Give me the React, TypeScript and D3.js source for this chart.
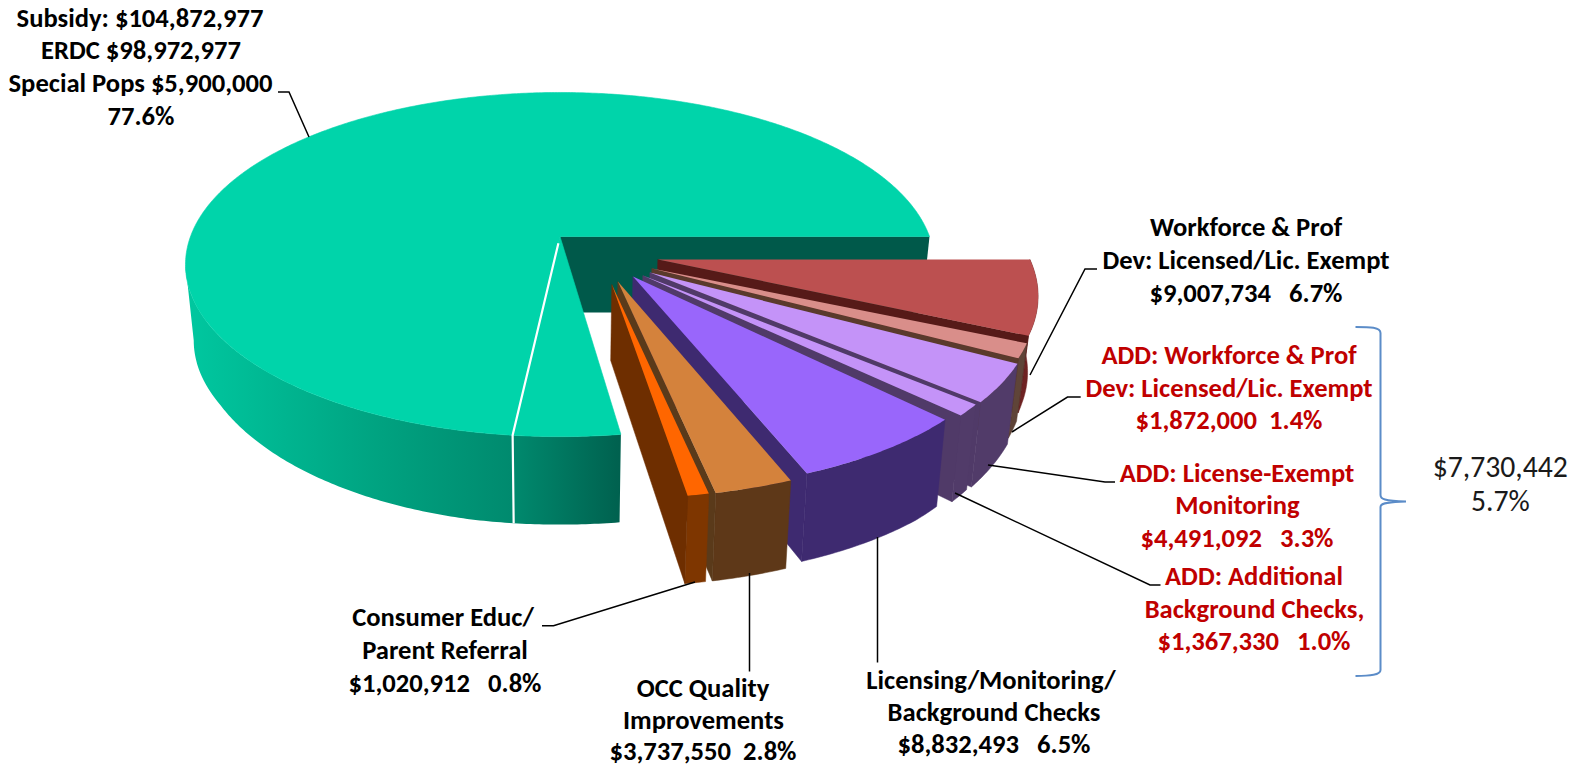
import React from "react";
import * as d3 from "d3";

// ---- data ----
const sliceNames = [
  "Workforce & Prof Dev",
  "ADD: Workforce & Prof Dev",
  "ADD: License-Exempt Monitoring",
  "ADD: Additional Background Checks",
  "Licensing/Monitoring/Background Checks",
  "OCC Quality Improvements",
  "Consumer Educ/Parent Referral",
  "Special Pops",
  "ERDC",
];
const sliceValues = [9007734, 1872000, 4491092, 1367330, 8832493, 3737550, 1020912, 5900000, 98972977];

// styling per slice
const topColors = ["#bc5050", "#d98e8a", "#c493f8", "#c493f8", "#9966fb", "#d4823c", "#ff6600", "#00d4aa", "#00d4aa"];
const sideColors = ["#6e2222", "#5f4438", "#513b69", "#513b69", "#3e2a70", "#5e3818", "#7e3600", "url(#greenSide)", "url(#greenSide)"];
const endColors = ["#561a18", "#5a3a2c", "#503a68", "#503a68", "#3e2a70", "#5a3a1a", "#6e2e00", "none", "none"];
const explodeU = [0.259, 0.241, 0.235, 0.216, 0.19, 0.15, 0.134, 0, 0];
const explodeV = [0.134, 0.185, 0.208, 0.225, 0.23, 0.258, 0.274, 0, 0];
const radii = [0.985, 0.985, 0.985, 0.985, 0.985, 0.985, 0.972, 1, 1];
// small angular corrections (degrees) for the perspective drawing of the source
const startNudge = [0, -0.5, -0.6, -0.6, 0.6, 0.8, 0.8, 1.3, -0.3];
const endNudge = [0.4, -0.8, -0.1, -0.5, 0.9, 1, 0.85, -0.3, 0];

const blackLabels = [
  { x: 140, y: 27, t: "Subsidy: $104,872,977" },
  { x: 141, y: 59, t: "ERDC $98,972,977" },
  { x: 140.5, y: 92, t: "Special Pops $5,900,000" },
  { x: 141, y: 125, t: "77.6%" },
  { x: 1246, y: 236, t: "Workforce & Prof" },
  { x: 1246, y: 269, t: "Dev: Licensed/Lic. Exempt" },
  { x: 1246, y: 302, t: "$9,007,734   6.7%" },
  { x: 443, y: 626, t: "Consumer Educ/" },
  { x: 445, y: 659, t: "Parent Referral" },
  { x: 445, y: 691.5, t: "$1,020,912   0.8%" },
  { x: 703, y: 697, t: "OCC Quality" },
  { x: 703.5, y: 729, t: "Improvements" },
  { x: 703, y: 760, t: "$3,737,550  2.8%" },
  { x: 991, y: 689, t: "Licensing/Monitoring/" },
  { x: 994, y: 721, t: "Background Checks" },
  { x: 994, y: 753, t: "$8,832,493   6.5%" },
];
const redLabels = [
  { x: 1229, y: 364, t: "ADD: Workforce & Prof" },
  { x: 1229, y: 397, t: "Dev: Licensed/Lic. Exempt" },
  { x: 1229, y: 429, t: "$1,872,000  1.4%" },
  { x: 1237, y: 482, t: "ADD: License-Exempt" },
  { x: 1237.5, y: 514, t: "Monitoring" },
  { x: 1237, y: 547, t: "$4,491,092   3.3%" },
  { x: 1254, y: 585, t: "ADD: Additional" },
  { x: 1254.5, y: 618, t: "Background Checks," },
  { x: 1254, y: 650, t: "$1,367,330   1.0%" },
];
const totalLabels = [
  { x: 1500.3, y: 476.5, t: "$7,730,442" },
  { x: 1500.3, y: 511, t: "5.7%" },
];
const leaderLines: [number, number][][] = [
  [[278, 92], [289, 92], [309, 137]],
  [[1030, 375], [1085, 269], [1097, 269]],
  [[1012, 432], [1067.5, 397], [1080.7, 397]],
  [[988, 465], [1105, 482], [1115, 482]],
  [[955, 493], [1150, 585], [1160.5, 585]],
  [[877.5, 537], [877.5, 662.5]],
  [[749.5, 573], [749.5, 671.5]],
  [[695, 582], [553.5, 625.7], [542, 625.7]],
];

// ---- projection of the tilted disk ----
const CX = 560, CY = 236.5, A = 369.5, B = 167.5, K = 0.163;
const SHRINK = 0.022;
const W = 1583, H = 767;
const DEG = Math.PI / 180;
const depthAt = (v: number) => 76 + Math.min(12, 25 * Math.max(0, v - 0.5));
const project = (u: number, v: number, low = false): [number, number] => {
  const w = 1 - K * v;
  const x = CX + (A * u) / w;
  const y = CY + (B * v) / w;
  if (!low) return [x, y];
  return [CX + (x - CX) * (1 - SHRINK), y + depthAt(v)];
};

const pie = d3.pie<number>().sort(null).startAngle(Math.PI / 2).endAngle(Math.PI / 2 + 2 * Math.PI);
const arcs = pie(sliceValues);
const toPath = d3.line<[number, number]>().curve(d3.curveLinear);

function App() {
  const arcPts = (i: number, a0: number, a1: number) => {
    const n = Math.max(2, Math.ceil((a1 - a0) / 0.01));
    return d3.range(n + 1).map((k) => {
      const a = a0 + ((a1 - a0) * k) / n;
      return [explodeU[i] + radii[i] * Math.sin(a), explodeV[i] - radii[i] * Math.cos(a)] as [number, number];
    });
  };
  const faces = (i: number) => {
    const a0 = arcs[i].startAngle + startNudge[i] * DEG;
    const a1 = arcs[i].endAngle + endNudge[i] * DEG;
    const pts = arcPts(i, a0, a1);
    const apex: [number, number] = [explodeU[i], explodeV[i]];
    const topP = [apex, ...pts].map(([u, v]) => project(u, v));
    let sidePts = pts;
    if (i >= 7) {
      const leftExtreme = 1.5 * Math.PI - Math.asin(K);
      sidePts = arcPts(i, a0, Math.min(a1, leftExtreme));
    }
    const side = [
      ...sidePts.map(([u, v]) => project(u, v)),
      ...sidePts.slice().reverse().map(([u, v]) => project(u, v, true)),
    ];
    const last = pts[pts.length - 1];
    const end = [project(apex[0], apex[1]), project(last[0], last[1]), project(last[0], last[1], true), project(apex[0], apex[1], true)];
    return { top: topP, side, end };
  };

  // back wall of the main disk, exposed where the wedges were pulled out
  const wallEnd = project(1, 0);
  const wall = [project(0, 0), wallEnd, project(1, 0, true), [CX, project(0, 0, true)[1]] as [number, number]];

  // white seam between the ERDC and Special Pops parts
  const seamA = arcs[8].startAngle + startNudge[8] * DEG;
  const seamU = Math.sin(seamA), seamV = -Math.cos(seamA);
  const seamTop = project(seamU, seamV);
  const seamStart = project(seamU * 0.04, seamV * 0.04);
  const seamLow = project(seamU, seamV, true);

  const greenIdx = [7, 8];
  const wedgeIdx = [0, 1, 2, 3, 4, 5, 6];
  const font = "Carlito, Calibri, Lato, sans-serif";

  return (
    <svg width={W} height={H} viewBox={`0 0 ${W} ${H}`} style={{ position: "absolute", left: 0, top: 0, display: "block", background: "#fff" }}>
      <defs>
        <linearGradient id="greenSide" gradientUnits="userSpaceOnUse" x1={185} x2={622} y1={0} y2={0}>
          <stop offset="0" stopColor="#00c8a0" />
          <stop offset="0.45" stopColor="#00a280" />
          <stop offset="0.75" stopColor="#008a6e" />
          <stop offset="1" stopColor="#00604e" />
        </linearGradient>
      </defs>

      {greenIdx.map((i) => (
        <path key={sliceNames[i] + "side"} d={toPath(faces(i).side)! + "Z"} fill={sideColors[i]} />
      ))}
      <path d={toPath(wall)! + "Z"} fill="#00594a" />
      {greenIdx.map((i) => (
        <path key={sliceNames[i]} d={toPath(faces(i).top)! + "Z"} fill={topColors[i]} stroke={topColors[i]} strokeWidth={0.6} />
      ))}
      <path d={toPath([seamStart, seamTop, seamLow])!} fill="none" stroke="#fff" strokeWidth={2.2} />

      {wedgeIdx.map((i) => {
        const f = faces(i);
        return (
          <g key={sliceNames[i]}>
            <path d={toPath(f.side)! + "Z"} fill={sideColors[i]} stroke={sideColors[i]} strokeWidth={0.5} />
            <path d={toPath(f.end)! + "Z"} fill={endColors[i]} stroke={endColors[i]} strokeWidth={0.5} />
            <path d={toPath(f.top)! + "Z"} fill={topColors[i]} />
          </g>
        );
      })}

      {leaderLines.map((l, i) => (
        <path key={i} d={toPath(l)!} fill="none" stroke="#000" strokeWidth={1.5} />
      ))}
      <path
        d="M1355.5,327 C1370,327 1380.5,327 1380.5,333 L1380.5,495 C1380.5,499 1384,501 1406,501.5 C1384,502 1380.5,504 1380.5,507 L1380.5,670 C1380.5,675 1370,676 1355.5,676"
        fill="none"
        stroke="#5b8cc8"
        strokeWidth={2}
      />

      <g fontFamily={font} fontWeight={700} fontSize={26.6} textAnchor="middle">
        {blackLabels.map((l) => (
          <text key={l.t} x={l.x} y={l.y} fill="#000" xmlSpace="preserve" style={{ whiteSpace: "pre" }}>{l.t}</text>
        ))}
        {redLabels.map((l) => (
          <text key={l.t} x={l.x} y={l.y} fill="#c00000" xmlSpace="preserve" style={{ whiteSpace: "pre" }}>{l.t}</text>
        ))}
      </g>
      <g fontFamily={font} fontSize={29.7} textAnchor="middle" fill="#1a1a1a">
        {totalLabels.map((l) => (
          <text key={l.t} x={l.x} y={l.y}>{l.t}</text>
        ))}
      </g>
    </svg>
  );
}

export default App;
